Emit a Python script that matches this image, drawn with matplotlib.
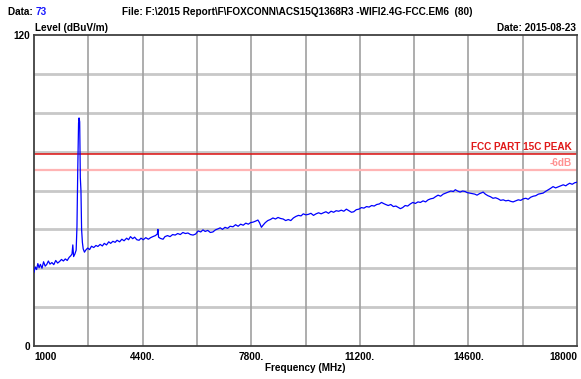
import matplotlib
matplotlib.use("Agg")
import matplotlib.pyplot as plt

plt.rcParams['font.family'] = ['Liberation Sans', 'DejaVu Sans']

# ---- data ----
freq_mhz = [1000, 1040, 1080, 1120, 1160, 1200, 1250, 1300, 1350, 1400, 1450, 1500, 1560, 1620, 1680,
            1740, 1800, 1860, 1920, 1980, 2040, 2100, 2150, 2190, 2215, 2240, 2280, 2320, 2345, 2370,
            2395, 2410, 2430, 2450, 2470, 2490, 2515, 2540, 2580, 2620, 2680, 2740, 2800, 2870, 2940,
            3000, 3070, 3140, 3200, 3270, 3340, 3400, 3470, 3540, 3600, 3680, 3750, 3820, 3900, 3960,
            4020, 4090, 4150, 4220, 4290, 4350, 4420, 4500, 4580, 4650, 4720, 4800, 4860, 4880, 4900,
            4960, 5040, 5100, 5180, 5260, 5340, 5420, 5500, 5580, 5660, 5740, 5820, 5900, 5980, 6060,
            6140, 6220, 6290, 6360, 6440, 6520, 6600, 6680, 6760, 6830, 6900, 6980, 7060, 7140, 7230,
            7310, 7390, 7470, 7550, 7630, 7710, 7780, 7860, 7940, 8010, 8060, 8120, 8170, 8240, 8320,
            8400, 8480, 8560, 8640, 8720, 8800, 8880, 8960, 9040, 9120, 9200, 9280, 9360, 9430, 9510,
            9590, 9670, 9750, 9830, 9910, 9990, 10060, 10140, 10220, 10300, 10380, 10460, 10540, 10620,
            10700, 10780, 10860, 10940, 11010, 11090, 11170, 11250, 11330, 11410, 11490, 11570, 11650,
            11730, 11810, 11880, 11940, 12010, 12090, 12170, 12250, 12330, 12410, 12470, 12540, 12620,
            12700, 12780, 12860, 12940, 13020, 13100, 13180, 13260, 13340, 13420, 13500, 13570, 13650,
            13730, 13810, 13890, 13970, 14050, 14130, 14190, 14260, 14340, 14420, 14500, 14560, 14640,
            14720, 14800, 14870, 14950, 15030, 15060, 15130, 15210, 15290, 15370, 15450, 15530, 15610,
            15690, 15770, 15850, 15930, 16000, 16080, 16160, 16240, 16320, 16400, 16470, 16550, 16630,
            16710, 16790, 16870, 16940, 17010, 17090, 17170, 17250, 17330, 17410, 17490, 17570, 17650,
            17690, 17770, 17850, 17930, 18000]

level_dbuv = [28.5, 30.5, 29.5, 31.8, 30.2, 31.5, 30.0, 32.5, 30.8, 31.5, 32.8, 31.6, 32.2, 31.4, 33.0,
              32.0, 32.6, 33.4, 32.8, 33.6, 33.0, 34.2, 34.8, 35.5, 39.0, 34.5, 35.5, 37.0, 46.0, 68.0,
              86.0, 88.0, 86.5, 65.0, 60.0, 45.0, 40.0, 37.5, 36.2, 37.0, 37.8, 37.2, 38.5, 38.0, 38.8,
              38.4, 39.2, 38.6, 39.6, 39.0, 40.2, 39.6, 40.4, 40.0, 40.8, 40.2, 41.2, 40.6, 41.6, 41.0,
              42.2, 41.4, 42.0, 41.0, 40.8, 41.6, 41.0, 41.8, 41.2, 41.8, 42.2, 42.6, 43.2, 45.0, 42.0,
              41.5, 41.2, 42.2, 42.6, 42.2, 43.0, 42.8, 43.4, 43.0, 43.8, 43.4, 43.6, 43.0, 42.8, 43.2,
              44.4, 44.0, 44.8, 44.2, 44.6, 43.8, 44.0, 44.8, 45.2, 45.6, 45.0, 45.8, 45.4, 46.2, 46.0,
              46.8, 46.2, 47.0, 46.6, 47.4, 47.0, 47.6, 47.8, 48.2, 48.6, 47.6, 45.8, 46.6, 47.6, 48.4,
              48.8, 49.4, 49.0, 49.6, 49.2, 49.0, 48.4, 48.8, 48.4, 49.4, 50.0, 50.4, 50.2, 51.0, 50.6,
              50.8, 51.2, 50.4, 51.0, 51.4, 51.0, 51.4, 51.8, 51.2, 52.0, 51.6, 52.2, 52.0, 52.4,
              52.0, 52.8, 52.2, 51.6, 51.8, 52.6, 52.8, 53.4, 53.2, 53.8, 53.6, 54.2, 54.0,
              54.6, 54.8, 55.4, 55.0, 54.6, 54.2, 54.6, 53.8, 54.0, 53.4, 53.0, 53.4, 54.2,
              54.0, 54.8, 55.4, 55.0, 55.6, 55.4, 56.0, 55.6, 56.4, 56.8, 57.0, 57.6, 58.2,
              57.8, 58.6, 59.0, 59.4, 59.8, 59.6, 60.3, 59.8, 59.4, 59.8, 59.6, 59.2, 59.0,
              58.8, 58.6, 58.2, 58.8, 59.2, 59.4, 58.6, 58.0, 57.6, 57.0, 57.2, 56.8, 56.2,
              56.4, 56.0, 56.2, 55.8, 55.6, 56.0, 56.4, 56.2, 56.8, 57.0, 56.6, 57.4, 57.8,
              58.0, 58.6, 58.8, 59.0, 59.6, 60.2, 60.8, 61.5, 61.0, 61.4, 61.8, 62.2, 61.8,
              62.2, 62.8, 62.4, 63.0, 63.2]

limit_peak = 74.0
limit_minus6 = 68.0
x_label_ticks = [1000, 4400, 7800, 11200, 14600, 18000]
x_label_text = ["1000", "4400.", "7800.", "11200.", "14600.", "18000"]
x_grid = [2700, 4400, 6100, 7800, 9500, 11200, 12900, 14600, 16300]
y_grid = [15, 30, 45, 60, 75, 90, 105]

W, H = 581, 379
fig = plt.figure(figsize=(W / 100, H / 100), dpi=100)
fig.patch.set_facecolor('white')
ax = fig.add_axes([34 / W, 33 / H, 543 / W, 311 / H])
ax.set_xlim(1000, 18000)
ax.set_ylim(0, 120)

for g in y_grid:
    ax.axhline(g, color='#c8c8c8', lw=2.0, zorder=1)
for g in x_grid:
    ax.axvline(g, color='#a0a0a0', lw=1.2, zorder=1)

ax.axhline(limit_peak, color='#dd1010', lw=1.1, zorder=2)
ax.axhline(limit_minus6, color='#ffb4b4', lw=1.6, zorder=2)

ax.plot(freq_mhz, level_dbuv, color='#0000ff', lw=0.9, zorder=3)

for s in ax.spines.values():
    s.set_color('#404040')
    s.set_linewidth(1.3)
ax.spines['right'].set_color('#707070')
ax.set_xticks([])
ax.set_yticks([])

fs = 7.2
bold = dict(fontweight='bold', fontsize=fs)

# tick labels
for v, t in zip(x_label_ticks, x_label_text):
    if v == x_label_ticks[0]:
        ax.text(v, -2.5, t, ha='left', va='top', color='black', **bold)
    elif v == x_label_ticks[-1]:
        ax.text(v, -2.5, t, ha='right', va='top', color='black', **bold)
    else:
        ax.text(v, -2.5, t, ha='center', va='top', color='black', **bold)

fig.text(30 / W, 1 - 347 / H, "0", ha='right', va='center', color='black', **bold)
fig.text(30 / W, 1 - 36 / H, "120", ha='right', va='center', color='black', **bold)
fig.text(305 / W, 1 - 368 / H, "Frequency (MHz)", ha='center', va='center', color='black', **bold)
fig.text(35 / W, 1 - 28 / H, "Level (dBuV/m)", ha='left', va='center', color='black', **bold)
fig.text(576 / W, 1 - 28 / H, "Date: 2015-08-23", ha='right', va='center', color='black', **bold)
fig.text(8 / W, 1 - 12 / H, "Data: ", ha='left', va='center', color='black', **bold)
fig.text(36 / W, 1 - 12 / H, "73", ha='left', va='center', color='#1a1aff', **bold)
fig.text(122 / W, 1 - 12 / H, "File: F:\\2015 Report\\F\\FOXCONN\\ACS15Q1368R3 -WIFI2.4G-FCC.EM6  (80)",
         ha='left', va='center', color='black', **bold)

ax.text(0.99, limit_peak + 1.0, "FCC PART 15C PEAK", ha='right', va='bottom', color='#e01818',
        transform=ax.get_yaxis_transform(), **bold)
ax.text(0.99, limit_minus6 + 0.8, "-6dB", ha='right', va='bottom', color='#ff9090',
        transform=ax.get_yaxis_transform(), **bold)

fig.savefig('out.png', dpi=100)
